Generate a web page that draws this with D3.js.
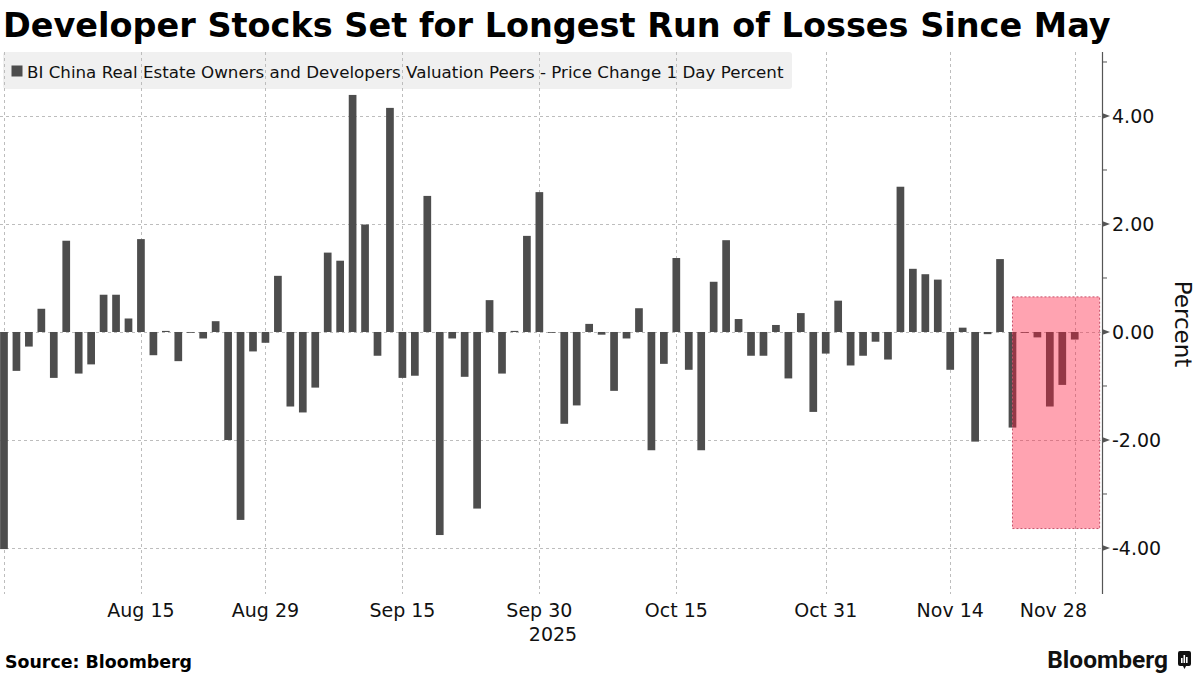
<!DOCTYPE html>
<html>
<head>
<meta charset="utf-8">
<script src="https://cdn.jsdelivr.net/npm/d3@7"></script>
<style>
  body { margin: 0; background: #fff; }
  svg { display: block; }
  text { font-family: "DejaVu Sans", sans-serif; }
</style>
</head>
<body>
<svg id="chart" width="1200" height="675"></svg>
<script>
// trading days shown on the chart
const dates = [
  "2025-07-31",
  "2025-08-01", "2025-08-04", "2025-08-05", "2025-08-06", "2025-08-07", "2025-08-08",
  "2025-08-11", "2025-08-12", "2025-08-13", "2025-08-14", "2025-08-15",
  "2025-08-18", "2025-08-19", "2025-08-20", "2025-08-21", "2025-08-22",
  "2025-08-25", "2025-08-26", "2025-08-27", "2025-08-28", "2025-08-29",
  "2025-09-01", "2025-09-02", "2025-09-03", "2025-09-04", "2025-09-05",
  "2025-09-08", "2025-09-09", "2025-09-10", "2025-09-11", "2025-09-12",
  "2025-09-15", "2025-09-16", "2025-09-17", "2025-09-18", "2025-09-19",
  "2025-09-22", "2025-09-23", "2025-09-24", "2025-09-25", "2025-09-26",
  "2025-09-29", "2025-09-30",
  "2025-10-01", "2025-10-02", "2025-10-03",
  "2025-10-06", "2025-10-07", "2025-10-08", "2025-10-09", "2025-10-10",
  "2025-10-13", "2025-10-14", "2025-10-15", "2025-10-16", "2025-10-17",
  "2025-10-20", "2025-10-21", "2025-10-22", "2025-10-23", "2025-10-24",
  "2025-10-27", "2025-10-28", "2025-10-29", "2025-10-30", "2025-10-31",
  "2025-11-03", "2025-11-04", "2025-11-05", "2025-11-06", "2025-11-07",
  "2025-11-10", "2025-11-11", "2025-11-12", "2025-11-13", "2025-11-14",
  "2025-11-17", "2025-11-18", "2025-11-19", "2025-11-20", "2025-11-21",
  "2025-11-24", "2025-11-25", "2025-11-26", "2025-11-27", "2025-11-28"
];

// price change 1 day, percent
const values = [
  -4.02,
  -0.72, -0.27, 0.43, -0.85, 1.69, -0.77,
  -0.60, 0.69, 0.69, 0.25, 1.72,
  -0.43, 0.02, -0.54, -0.01, -0.12,
  0.20, -2.00, -3.48, -0.36, -0.20,
  1.04, -1.38, -1.49, -1.03, 1.47,
  1.32, 4.39, 1.99, -0.44, 4.15,
  -0.85, -0.81, 2.52, -3.76, -0.12,
  -0.83, -3.27, 0.59, -0.77, 0.02,
  1.78, 2.59,
  -0.01, -1.70, -1.36,
  0.15, -0.05, -1.09, -0.12, 0.44,
  -2.19, -0.59, 1.37, -0.70, -2.19,
  0.93, 1.70, 0.24, -0.44, -0.44,
  0.13, -0.86, 0.35, -1.48, -0.40,
  0.58, -0.62, -0.44, -0.18, -0.51,
  2.69, 1.17, 1.07, 0.97, -0.70,
  0.08, -2.03, -0.04, 1.35, -1.77,
  -0.01, -0.10, -1.38, -0.98, -0.14
];

const tickDates = ["2025-08-15", "2025-08-29", "2025-09-15", "2025-09-30",
                   "2025-10-15", "2025-10-31", "2025-11-14", "2025-11-28"];
const tickLabels = ["Aug 15", "Aug 29", "Sep 15", "Sep 30",
                    "Oct 15", "Oct 31", "Nov 14", "Nov 28"];
const yTicks = [-4, -2, 0, 2, 4];
const yMinorTicks = [-3, -1, 1, 3, 5];

// shaded losing streak: trading-day index range and value range
const highlightDays = [81, 88];
const highlightValues = [-3.64, 0.65];

const title = "Developer Stocks Set for Longest Run of Losses Since May";
const legendLabel = "BI China Real Estate Owners and Developers Valuation Peers - Price Change 1 Day Percent";

const svg = d3.select("#chart");
const plot = { left: 0, right: 1102, top: 52, bottom: 594 };

const x = d3.scaleLinear().domain([-0.32, 88.19]).range([plot.left, plot.right]);
const y = d3.scaleLinear().domain([-4.852, 5.185]).range([plot.bottom, plot.top]);
const barW = 7.7;

// title
svg.append("text")
  .attr("x", 3).attr("y", 37)
  .style("font-size", "33.5px").style("font-weight", "bold")
  .attr("fill", "#000")
  .text(title);

// legend
svg.append("rect")
  .attr("x", 3).attr("y", 52).attr("width", 789).attr("height", 37)
  .attr("rx", 3).attr("fill", "#f0f0f0");
svg.append("rect")
  .attr("x", 11.5).attr("y", 65.5).attr("width", 11).attr("height", 11)
  .attr("fill", "#4d4d4d");
svg.append("text")
  .attr("x", 27).attr("y", 77.5)
  .style("font-size", "16.7px").attr("fill", "#111")
  .text(legendLabel);

// grid
const grid = svg.append("g").attr("stroke", "#bdbdbd").attr("stroke-width", 1)
  .attr("stroke-dasharray", "3,3").attr("fill", "none");

grid.selectAll(".hg").data(yTicks).join("line")
  .attr("x1", plot.left).attr("x2", plot.right)
  .attr("y1", d => Math.round(y(d)) + 0.5).attr("y2", d => Math.round(y(d)) + 0.5);

const vGrid = [0].concat(tickDates.map(d => dates.indexOf(d)));
grid.selectAll(".vg").data(vGrid).join("line")
  .attr("x1", d => Math.round(x(d)) + 0.5).attr("x2", d => Math.round(x(d)) + 0.5)
  .attr("y1", plot.top).attr("y2", plot.bottom);

// bars
svg.append("g").selectAll("rect").data(values).join("rect")
  .attr("x", (d, i) => x(i) - barW / 2)
  .attr("width", barW)
  .attr("y", d => y(Math.max(0, d)))
  .attr("height", d => Math.max(0.8, Math.abs(y(d) - y(0))))
  .attr("fill", "#4d4d4d");

// highlight box
svg.append("rect")
  .attr("x", x(highlightDays[0])).attr("width", x(highlightDays[1]) - x(highlightDays[0]))
  .attr("y", y(highlightValues[1])).attr("height", y(highlightValues[0]) - y(highlightValues[1]))
  .attr("fill", "#ff193c").attr("fill-opacity", 0.4)
  .attr("stroke", "#c8506a").attr("stroke-width", 1).attr("stroke-dasharray", "2,2");

// y axis
const yAxis = svg.append("g");
yAxis.append("line")
  .attr("x1", plot.right + 0.5).attr("x2", plot.right + 0.5)
  .attr("y1", plot.top).attr("y2", plot.bottom)
  .attr("stroke", "#555").attr("stroke-width", 1.2);
yAxis.selectAll(".maj").data(yTicks).join("path")
  .attr("d", d => `M${plot.right},${y(d) - 3}L${plot.right + 8},${y(d)}L${plot.right},${y(d) + 3}Z`)
  .attr("fill", "#555");
yAxis.selectAll(".min").data(yMinorTicks).join("line")
  .attr("x1", plot.right).attr("x2", plot.right + 5)
  .attr("y1", d => y(d)).attr("y2", d => y(d))
  .attr("stroke", "#555");
yAxis.selectAll("text").data(yTicks).join("text")
  .attr("x", plot.right + 10).attr("y", d => y(d)).attr("dy", "0.36em")
  .style("font-size", "19px").attr("fill", "#111")
  .text(d => d3.format(".2f")(d).replace("−", "-"));

svg.append("text")
  .attr("transform", "translate(1175,324) rotate(90)")
  .attr("text-anchor", "middle")
  .style("font-size", "23px").attr("fill", "#111")
  .text("Percent");

// x axis labels
const xLab = svg.append("g").style("font-size", "19px").attr("fill", "#111");
xLab.selectAll("text").data(tickDates).join("text")
  .attr("x", d => x(dates.indexOf(d)))
  .attr("y", 617)
  .attr("text-anchor", "middle")
  .text((d, i) => tickLabels[i])
  .each(function () {
    // keep the last label clear of the value axis
    const b = this.getBBox();
    if (b.x + b.width > plot.right - 15) {
      d3.select(this).attr("x", +d3.select(this).attr("x") - (b.x + b.width - (plot.right - 15)));
    }
  });
xLab.append("text")
  .attr("x", 553).attr("y", 641).attr("text-anchor", "middle")
  .text("2025");

// footer
svg.append("text")
  .attr("x", 5).attr("y", 668)
  .style("font-size", "17.4px").style("font-weight", "bold").attr("fill", "#000")
  .text("Source: Bloomberg");

svg.append("text")
  .attr("x", 1168).attr("y", 668).attr("text-anchor", "end")
  .style("font-family", "Roboto, sans-serif").style("font-size", "24.5px")
  .style("font-weight", "bold").attr("fill", "#111")
  .text("Bloomberg");

const logo = svg.append("g").attr("transform", "translate(1178,651)");
logo.append("path")
  .attr("d", "M2,0H11a2,2 0 0 1 2,2V13a2,2 0 0 1 -2,2H8L6.5,18L5,15H2a2,2 0 0 1 -2,-2V2a2,2 0 0 1 2,-2Z")
  .attr("fill", "#111");
logo.selectAll("rect").data([[3, 7, 5], [5.5, 4, 8], [8, 6, 6]]).join("rect")
  .attr("x", d => d[0]).attr("y", d => d[1]).attr("width", 1.6).attr("height", d => d[2])
  .attr("fill", "#fff");
</script>
</body>
</html>
